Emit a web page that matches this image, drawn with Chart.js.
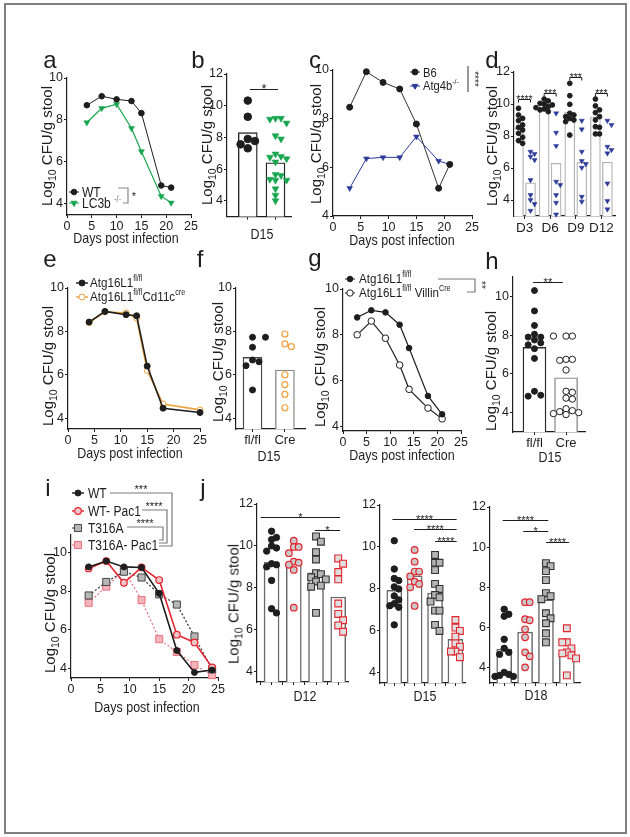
<!DOCTYPE html>
<html>
<head>
<meta charset="utf-8">
<title>Log10 CFU/g stool</title>
<script src="https://cdn.jsdelivr.net/npm/chart.js@4.4.1/dist/chart.umd.min.js"></script>
<style>
  html, body { margin: 0; padding: 0; background: #fff; }
  #page { position: relative; width: 630px; height: 837px; overflow: hidden; color: #1e1e1e; }
  #frame { position: absolute; left: 4px; top: 3px; width: 619px; height: 827px; border: 2px solid #808080; }
  canvas { position: absolute; left: 0; top: 0; }
  .lab { position: absolute; white-space: nowrap; line-height: 1; font-family: 'Liberation Sans', Arial, sans-serif; }
  .sp { font-size: 62%; position: relative; top: -0.7em; }
  .sb { font-size: 70%; position: relative; top: 0.35em; }
</style>
</head>
<body>
<div id="page"><div id="frame"></div></div>
<script>
// ---------- a: WT vs LC3b-/- time course ----------
const daysA = [4, 7, 10, 13, 15, 19, 21];
const wtA = [8.7, 9.13, 8.98, 8.9, 8.32, 4.86, 4.76];
const lc3bA = [7.87, 8.55, 8.75, 7.6, 6.49, 4.35, 4.03];

// ---------- b: D15 ----------
const barsB = [8.3, 6.4];
const wtB = [10.32, 9.3, 7.9, 7.77, 7.56, 7.31];
const lc3bB = [9.2, 9.2, 9.15, 8.9, 8.1, 7.9, 6.95, 6.8, 6.75, 6.65, 6.45, 5.65, 5.6, 5.35, 5.3, 5.3, 4.75, 4.35, 4.0];

// ---------- c: B6 vs Atg4b-/- ----------
const daysC = [3, 6, 9, 12, 15, 19, 21];
const b6C = [8.47, 9.93, 9.49, 9.22, 7.78, 5.14, 6.12];
const atg4bC = [5.14, 6.36, 6.41, 6.41, 7.26, 6.26, 6.12];

// ---------- d: per day ----------
const daysD = ['D3', 'D6', 'D9', 'D12'];
const b6BarsD = [8.48, 9.98, 9.48, 9.2];
const atg4bBarsD = [5.08, 6.29, 6.36, 6.36];
const b6D = [
  [9.73, 9.31, 9.1, 8.96, 8.69, 8.54, 8.38, 8.17, 7.92, 7.71, 7.54],
  [10.31, 10.19, 10.04, 10.0, 9.94, 9.83, 9.77, 9.69, 9.63, 9.52],
  [11.29, 10.52, 9.98, 9.42, 9.31, 9.21, 9.1, 9.0, 8.9, 8.06],
  [10.31, 9.88, 9.63, 9.46, 9.21, 9.0, 8.58, 8.54, 8.13, 8.13]
];
const atg4bD = [
  [7.02, 6.88, 6.71, 6.5, 5.25, 4.31, 4.0, 3.75, 3.33],
  [9.42, 8.21, 7.38, 5.15, 4.94, 4.31, 3.83, 3.1],
  [8.96, 8.42, 7.02, 6.44, 6.25, 6.02, 4.21, 3.9],
  [8.96, 8.69, 7.33, 7.13, 6.92, 5.04, 3.94, 3.42]
];
const sigD = ['****', '***', '***', '***'];
const sigLevelD = [10.3, 10.7, 11.67, 10.7];

// ---------- e: Atg16L1 fl/fl vs Cd11c-cre ----------
const daysE = [4, 7, 11, 13, 15, 18, 25];
const flE = [8.43, 8.92, 8.77, 8.72, 6.4, 4.46, 4.26];
const cd11cE = [8.4, 8.9, 8.85, 8.6, 6.2, 4.65, 4.38];

// ---------- f: D15 ----------
const groupsF = ['fl/fl', 'Cre'];
const barsF = [6.8, 6.22];
const flF = [7.73, 7.73, 7.27, 6.68, 6.6, 6.42, 5.3];
const creF = [7.88, 7.42, 7.3, 6.0, 5.55, 5.1, 4.48];

// ---------- g: Atg16L1 fl/fl vs Villin-cre ----------
const daysG = [3, 6, 9, 12, 14, 18, 21];
const flG = [8.76, 9.07, 8.98, 8.44, 7.42, 5.33, 4.53];
const villinG = [8.0, 8.6, 7.85, 6.68, 5.62, 4.8, 4.33];

// ---------- h: D15 ----------
const groupsH = ['fl/fl', 'Cre'];
const barsH = [7.37, 5.8];
const flH = [10.3, 9.25, 8.5, 8.05, 7.9, 7.9, 7.75, 7.6, 7.5, 7.3, 6.8, 5.1, 4.9, 4.85];
const creH = [7.95, 7.95, 7.95, 6.75, 6.75, 6.7, 6.2, 5.1, 5.05, 4.75, 4.7, 4.2, 4.1, 4.05, 4.0, 3.95, 3.9];

// ---------- i: WT / WT-Pac1 / T316A / T316A-Pac1 ----------
const daysI = [3, 6, 9, 12, 15, 18, 21, 24];
const wtI = [9.25, 9.55, 9.25, 9.22, 7.88, 4.92, 3.79, 3.91];
const wtPacI = [9.17, 9.55, 8.43, 9.22, 8.57, 5.74, 5.34, 4.05];
const t316I = [7.77, 8.47, 9.0, 8.7, 7.83, 7.3, 5.65, 3.95];
const t316PacI = [7.39, 8.23, 9.08, 7.53, 5.51, 4.85, 4.17, 3.65];

// ---------- j: D12 / D15 / D18 ----------
const barsJ12 = [9.22, 9.22, 8.71, 7.56];
const wtJ12 = [10.7, 10.4, 10.3, 10.0, 9.9, 9.75, 9.15, 9.1, 9.0, 8.35, 7.0, 6.8];
const wtPacJ12 = [10.25, 9.95, 9.95, 9.65, 9.25, 9.2, 9.1, 8.85, 7.05];
const t316J12 = [10.45, 10.2, 9.7, 9.35, 8.7, 8.65, 8.5, 8.4, 8.3, 8.1, 8.05, 6.8];
const t316PacJ12 = [9.4, 9.15, 8.75, 8.4, 7.25, 6.75, 6.45, 6.2, 5.9];
const sigJ12 = [{x1: 0.51, x2: 4.08, y: 11.39, label: '*'}, {x1: 2.95, x2: 4.08, y: 10.76, label: '*'}];

const barsJ15 = [7.93, 8.62, 7.8, 5.6];
const wtJ15 = [10.3, 8.95, 8.5, 8.4, 8.1, 8.0, 7.67, 7.48, 7.3, 7.2, 7.13, 6.29];
const wtPacJ15 = [9.86, 9.3, 8.83, 8.83, 8.6, 8.35, 8.24, 8.08, 7.19];
const t316J15 = [9.62, 9.25, 9.25, 8.9, 8.24, 8.0, 7.71, 7.6, 7.4, 6.97, 6.97, 6.29, 6.0];
const t316PacJ15 = [6.52, 6.16, 6.0, 5.73, 5.41, 5.25, 5.02, 5.02, 4.75];
const sigJ15 = [{x1: 0.91, x2: 4.06, y: 11.32, label: '****'}, {x1: 1.97, x2: 4.06, y: 10.86, label: '****'},
  {x1: 3.0, x2: 4.06, y: 10.29, label: '****'}];

const barsJ18 = [4.91, 5.76, 7.37, 4.83];
const wtJ18 = [6.9, 6.65, 6.55, 5.4, 4.95, 4.75, 4.65, 3.75, 3.65, 3.6, 3.55, 3.55];
const wtPacJ18 = [7.25, 7.25, 6.4, 6.35, 5.9, 5.5, 4.75, 4.55, 4.0];
const t316J18 = [9.2, 9.05, 8.8, 8.35, 7.7, 7.55, 7.4, 6.7, 6.45, 6.2, 5.7, 5.25];
const t316PacJ18 = [5.95, 5.25, 5.25, 4.95, 4.75, 4.7, 4.6, 4.45, 3.6];
const sigJ18 = [{x1: 0.93, x2: 3.11, y: 11.35, label: '****'}, {x1: 1.91, x2: 3.11, y: 10.8, label: '*'},
  {x1: 3.0, x2: 4.11, y: 10.27, label: '****'}];

const dayTicks = [0, 5, 10, 15, 20, 25];

// ---------------------------------------------------------------
const W = 630, H = 837;
const INK = '#1e1e1e', GREEN = '#17a54f', NAVY = '#2c3a98', ORANGE = '#f0a13c';
const RED = '#e3252f', PINK = '#e8717d', PINKFILL = '#f3b4bb', GREYFILL = '#b7b7b7';
const TF = "'Liberation Sans', Arial, sans-serif";
Chart.defaults.font.family = TF;
Chart.defaults.color = INK;
const page = document.getElementById('page');

function xy(xs, ys) { return xs.map((x, i) => ({x, y: ys[i]})); }

// deterministic beeswarm: highest value first, try centre then alternate sides,
// fall back to the least crowded column
function swarm(vals, center, dy, dx) {
  const placed = [];
  return vals.slice().sort((p, q) => q - p).map(v => {
    let best = null, bestD = -1;
    for (const k of [0, 1, -1, 2, -2]) {
      const x = center + k * dx;
      const d = placed.reduce((m, p) => Math.min(m, Math.hypot((p.x - x) / dx, (p.y - v) / dy)), Infinity);
      if (d >= 1) { best = x; break; }
      if (d > bestD) { bestD = d; best = x; }
    }
    const pt = {x: best, y: v};
    placed.push(pt);
    return pt;
  });
}

function axis(kind, min, max, vals, labels, fontSize) {
  return {
    type: 'linear', min, max, offset: false,
    grid: {offset: false, drawOnChartArea: false, drawTicks: true, tickLength: 3, color: INK, lineWidth: 1},
    border: {display: true, color: INK, width: 1.2},
    ticks: {padding: 1, font: {size: fontSize || 12.5}, color: INK, autoSkip: false, maxRotation: 0, minRotation: 0,
      callback: v => labels ? (labels[vals.indexOf(v)] ?? '') : String(v)},
    afterBuildTicks: s => { s.ticks = vals.map(v => ({value: v})); },
    afterFit: s => {
      if (kind === 'x') s.height = 24; else s.width = 34;
      s.paddingLeft = s.paddingRight = s.paddingTop = s.paddingBottom = 0;
    }
  };
}

function drawSym(ctx, s) {
  ctx.save();
  if (s.line) {
    ctx.strokeStyle = s.line.color; ctx.lineWidth = s.line.width || 1.2;
    ctx.setLineDash(s.line.dash || []);
    ctx.beginPath(); ctx.moveTo(s.x - s.line.len, s.y); ctx.lineTo(s.x + s.line.len, s.y); ctx.stroke();
    ctx.setLineDash([]);
  }
  ctx.fillStyle = s.fill; ctx.strokeStyle = s.stroke || s.fill; ctx.lineWidth = s.lw || 1;
  ctx.beginPath();
  if (s.shape === 'circle') ctx.arc(s.x, s.y, s.r, 0, Math.PI * 2);
  else if (s.shape === 'tri') {
    ctx.moveTo(s.x - s.r * 0.866, s.y - s.r * 0.5); ctx.lineTo(s.x + s.r * 0.866, s.y - s.r * 0.5);
    ctx.lineTo(s.x, s.y + s.r); ctx.closePath();
  } else { const h = s.r * Math.SQRT1_2; ctx.rect(s.x - h, s.y - h, 2 * h, 2 * h); }
  ctx.fill(); ctx.stroke();
  ctx.restore();
}

// brackets (in data units), legend symbols and connector lines (page px)
function marksPlugin(m) {
  return {
    id: 'marks',
    afterDatasetsDraw(chart) {
      const ctx = chart.ctx, xs = chart.scales.x, ys = chart.scales.y;
      ctx.save();
      (m.brackets || []).forEach(b => {
        const x1 = xs.getPixelForValue(b.x1), x2 = xs.getPixelForValue(b.x2), y = Math.round(ys.getPixelForValue(b.y)) + 0.5;
        ctx.strokeStyle = INK; ctx.lineWidth = 1;
        ctx.beginPath();
        if (b.drop) { ctx.moveTo(x1, y + b.drop); ctx.lineTo(x1, y); ctx.lineTo(x2, y); ctx.lineTo(x2, y + b.drop); }
        else { ctx.moveTo(x1, y); ctx.lineTo(x2, y); }
        ctx.stroke();
        ctx.fillStyle = INK; ctx.font = (b.size || 11) + 'px ' + TF;
        ctx.textAlign = 'center'; ctx.textBaseline = 'alphabetic';
        ctx.fillText(b.label, (x1 + x2) / 2, y + 3);
      });
      (m.paths || []).forEach(p => {
        ctx.strokeStyle = p.color || '#808080'; ctx.lineWidth = p.width || 1.2;
        ctx.beginPath();
        p.pts.forEach((q, i) => i ? ctx.lineTo(q[0], q[1]) : ctx.moveTo(q[0], q[1]));
        ctx.stroke();
      });
      (m.symbols || []).forEach(s => drawSym(ctx, s));
      ctx.restore();
    }
  };
}

function makeChart(box, xAx, yAx, datasets, marks) {
  const cv = document.createElement('canvas');
  cv.width = W; cv.height = H;
  page.appendChild(cv);
  return new Chart(cv, {
    type: 'scatter',
    data: {datasets},
    options: {
      responsive: false, animation: false, events: [],
      layout: {padding: {left: box[0] - 34, top: box[1], right: W - box[2], bottom: H - box[3] - 24}},
      plugins: {legend: {display: false}, tooltip: {enabled: false}},
      scales: {x: xAx, y: yAx}
    },
    plugins: [marksPlugin(marks || {})]
  });
}

function lineDs(xs, ys, st) {
  return Object.assign({type: 'line', data: xy(xs, ys), tension: 0, fill: false, clip: false,
    borderWidth: 1.2, pointBorderWidth: 1, order: 1}, st);
}
function dotDs(points, st) {
  return Object.assign({type: 'scatter', data: points, clip: false, order: 1, pointBorderWidth: 1}, st);
}
function barDs(xs, ys, st) {
  return Object.assign({type: 'bar', data: xy(xs, ys), backgroundColor: '#fff', borderSkipped: 'start',
    grouped: false, clip: 0, order: 5}, st);
}
const dot = (style, r, fill, stroke, lw, rot) => ({pointStyle: style, pointRadius: r, pointBackgroundColor: fill,
  pointBorderColor: stroke || fill, pointBorderWidth: lw == null ? 1 : lw, pointRotation: rot || 0});

// ---------- a ----------
makeChart([67, 78, 191, 215], axis('x', 0, 25, dayTicks), axis('y', 3.45, 10, [4, 6, 8, 10]), [
  lineDs(daysA, wtA, Object.assign({borderColor: INK, borderWidth: 1, order: 0}, dot('circle', 2.8, INK))),
  lineDs(daysA, lc3bA, Object.assign({borderColor: GREEN, borderWidth: 1.2}, dot('triangle', 3.5, GREEN, GREEN, 0.5, 180)))
], {
  symbols: [
    {x: 74, y: 192, shape: 'circle', r: 2.8, fill: INK, line: {len: 5, color: INK, width: 1}},
    {x: 74, y: 203, shape: 'tri', r: 3.4, fill: GREEN, line: {len: 5, color: GREEN, width: 1}}
  ],
  paths: [{pts: [[118, 188], [128, 188], [128, 203], [123, 203]], color: '#8a8a8a'}]
});

// ---------- b ----------
makeChart([227, 74, 291, 216.6], axis('x', 0.25, 2.56, [1, 2], []), axis('y', 3.0, 12, [4, 6, 8, 10, 12]), [
  barDs([1, 2], barsB, {borderColor: '#262626', borderWidth: 1.4, barThickness: 19}),
  dotDs(swarm(wtB, 1, 0.42, 0.26), dot('circle', 3.8, INK)),
  dotDs(swarm(lc3bB, 2, 0.33, 0.2), dot('triangle', 4, GREEN, GREEN, 0.5, 180))
], {brackets: [{x1: 1.08, x2: 2.09, y: 11.07, label: '*', size: 13}]});

// ---------- c ----------
makeChart([333, 70, 472, 216], axis('x', 0, 25, dayTicks), axis('y', 4, 10, [4, 6, 8, 10]), [
  lineDs(daysC, b6C, Object.assign({borderColor: '#333', borderWidth: 1, order: 0}, dot('circle', 3, INK))),
  lineDs(daysC, atg4bC, Object.assign({borderColor: NAVY, borderWidth: 1}, dot('triangle', 3.3, NAVY, NAVY, 0.5, 180)))
], {
  symbols: [
    {x: 415, y: 72, shape: 'circle', r: 3, fill: INK, line: {len: 5, color: '#333', width: 1}},
    {x: 415, y: 86, shape: 'tri', r: 3.2, fill: NAVY, line: {len: 5, color: NAVY, width: 1}}
  ],
  paths: [{pts: [[468, 66], [468, 92]], color: '#333', width: 1}]
});

// ---------- d ----------
const gx = [1, 2, 3, 4];
makeChart([514, 72, 615, 216], axis('x', 0.59, 4.53, gx, daysD, 13.5), axis('y', 3.0, 12, [4, 6, 8, 10, 12]), [
  barDs(gx.map(g => g - 0.234), b6BarsD, {borderColor: '#b4b4b4', borderWidth: 1.3, barThickness: 10}),
  barDs(gx.map(g => g + 0.234), atg4bBarsD, {borderColor: '#b4b4b4', borderWidth: 1.3, barThickness: 10}),
  dotDs(b6D.flatMap((v, k) => swarm(v, gx[k] - 0.234, 0.28, 0.16)), dot('circle', 2.4, INK)),
  dotDs(atg4bD.flatMap((v, k) => swarm(v, gx[k] + 0.234, 0.28, 0.16)), dot('triangle', 2.9, NAVY, NAVY, 0.5, 180))
], {brackets: gx.map((g, k) => ({x1: g - 0.234, x2: g + 0.234, y: sigLevelD[k], label: sigD[k], size: 10.5, drop: 3}))});

// ---------- e ----------
makeChart([68, 288, 200, 429], axis('x', 0, 25, dayTicks), axis('y', 3.5, 10, [4, 6, 8, 10]), [
  lineDs(daysE, flE, Object.assign({borderColor: INK, borderWidth: 1.6, order: 0}, dot('circle', 3, INK))),
  lineDs(daysE, cd11cE, Object.assign({borderColor: ORANGE, borderWidth: 1.6}, dot('circle', 3, '#fff', ORANGE, 1)))
], {
  symbols: [
    {x: 82, y: 283, shape: 'circle', r: 3, fill: INK, line: {len: 6, color: INK, width: 1.4}},
    {x: 82, y: 297, shape: 'circle', r: 3, fill: '#fff', stroke: ORANGE, line: {len: 6, color: ORANGE, width: 1.4}}
  ]
});

// ---------- f ----------
makeChart([236, 288, 305, 429], axis('x', 0.49, 2.62, [1, 2], groupsF, 13), axis('y', 3.5, 10, [4, 6, 8, 10]), [
  barDs([1, 2], barsF, {borderColor: ['#4a4a4a', '#8a8a8a'], borderWidth: 1.4, barThickness: 19}),
  dotDs(swarm(flF, 1, 0.3, 0.2), dot('circle', 3, INK)),
  dotDs(swarm(creF, 2, 0.3, 0.2), dot('circle', 3, '#fff', ORANGE, 1.2))
]);

// ---------- g ----------
makeChart([343, 289, 461, 431], axis('x', 0, 25, dayTicks), axis('y', 3.8, 10, [4, 6, 8, 10]), [
  lineDs(daysG, flG, Object.assign({borderColor: INK, borderWidth: 1.2, order: 0}, dot('circle', 2.8, INK))),
  lineDs(daysG, villinG, Object.assign({borderColor: INK, borderWidth: 1.2}, dot('circle', 3.3, '#fff', INK, 1)))
], {
  symbols: [
    {x: 350, y: 279, shape: 'circle', r: 2.8, fill: INK, line: {len: 5, color: INK, width: 1}},
    {x: 350, y: 293, shape: 'circle', r: 3.2, fill: '#fff', stroke: INK, line: {len: 5, color: INK, width: 1}}
  ],
  paths: [{pts: [[438, 279], [475, 279], [475, 292], [467, 292]], color: '#7a7a7a'}]
});

// ---------- h ----------
makeChart([513, 277, 585, 432], axis('x', 0.32, 2.6, [1, 2], groupsH, 13), axis('y', 3, 11, [4, 6, 8, 10]), [
  barDs([1, 2], barsH, {borderColor: ['#2a2a2a', '#8a8a8a'], borderWidth: 1.4, barThickness: 23}),
  dotDs(swarm(flH, 1, 0.3, 0.2), dot('circle', 3, INK)),
  dotDs(swarm(creH, 2, 0.3, 0.2), dot('circle', 3.2, '#fff', INK, 1))
], {brackets: [{x1: 0.95, x2: 1.9, y: 10.74, label: '**', size: 11}]});

// ---------- i ----------
makeChart([71, 535, 218, 678], axis('x', 0, 25, dayTicks), axis('y', 3.5, 10.9, [4, 6, 8, 10]), [
  lineDs(daysI, wtI, Object.assign({borderColor: INK, borderWidth: 1.6, order: 0}, dot('circle', 3, INK))),
  lineDs(daysI, wtPacI, Object.assign({borderColor: RED, borderWidth: 1.6, order: 1}, dot('circle', 3.3, '#efc5c9', RED, 1.2))),
  lineDs(daysI, t316I, Object.assign({borderColor: '#333', borderWidth: 1.2, borderDash: [2, 2], order: 2}, dot('rect', 5, GREYFILL, '#444', 1))),
  lineDs(daysI, t316PacI, Object.assign({borderColor: PINK, borderWidth: 1.2, borderDash: [2, 2], order: 3}, dot('rect', 5, PINKFILL, PINK, 1)))
], {
  symbols: [
    {x: 78, y: 493, shape: 'circle', r: 3, fill: INK, line: {len: 6, color: INK, width: 1.4}},
    {x: 78, y: 511, shape: 'circle', r: 3.3, fill: '#efc5c9', stroke: RED, lw: 1.2, line: {len: 6, color: RED, width: 1.4}},
    {x: 78, y: 528, shape: 'rect', r: 5, fill: GREYFILL, stroke: '#444', line: {len: 6, color: '#333', width: 1.2, dash: [2, 2]}},
    {x: 78, y: 545, shape: 'rect', r: 5, fill: PINKFILL, stroke: PINK, line: {len: 6, color: PINK, width: 1.2, dash: [2, 2]}}
  ],
  paths: [
    {pts: [[110, 493], [172, 493], [172, 546], [159, 546]], color: '#7a7a7a'},
    {pts: [[142, 510], [167, 510], [167, 543], [159, 543]], color: '#7a7a7a'},
    {pts: [[127, 527], [163, 527], [163, 540], [159, 540]], color: '#7a7a7a'}
  ]
});

// ---------- j ----------
function panelJ(box, xr, yr, bars, wt, wtPac, t316, t316Pac, sig) {
  const cx = [1, 2, 3, 4];
  const jt = [0.5, 1, 1.5, 2, 2.5, 3, 3.5, 4];
  makeChart(box, axis('x', xr[0], xr[1], jt, []), axis('y', yr[0], yr[1], [4, 6, 8, 10, 12]), [
    barDs(cx, bars, {borderColor: '#6a6a6a', borderWidth: 1.5, barThickness: 15}),
    dotDs(swarm(wt, 1, 0.3, 0.22), dot('circle', 3.2, INK)),
    dotDs(swarm(wtPac, 2, 0.3, 0.22), dot('circle', 3.3, '#c9c9c9', RED, 1.2)),
    dotDs(swarm(t316, 3, 0.32, 0.22), dot('rect', 4.8, '#b5b5b5', '#333', 1.1)),
    dotDs(swarm(t316Pac, 4, 0.32, 0.22), dot('rect', 4.8, '#dedede', RED, 1.1))
  ], {brackets: sig.map(s => Object.assign({size: 11}, s))});
}
panelJ([257, 504, 348, 682], [0.344, 4.44], [3.5, 12], barsJ12, wtJ12, wtPacJ12, t316J12, t316PacJ12, sigJ12);
panelJ([380, 505, 465, 683], [0.30, 4.47], [3.52, 12], barsJ15, wtJ15, wtPacJ15, t316J15, t316PacJ15, sigJ15);
panelJ([490, 507, 580, 683], [0.32, 4.63], [3.22, 12], barsJ18, wtJ18, wtPacJ18, t316J18, t316PacJ18, sigJ18);

// ---------- text (narrow = horizontally condensed like the figure's font) ----------
function txt(html, x, y, size, opt) {
  opt = opt || {};
  const d = document.createElement('div');
  d.className = 'lab';
  d.innerHTML = html;
  d.style.left = x + 'px'; d.style.top = y + 'px'; d.style.fontSize = size + 'px';
  let tf = opt.left ? 'translate(0,-50%)' : 'translate(-50%,-50%)';
  if (opt.rot) tf += ' rotate(' + opt.rot + 'deg)';
  if (opt.narrow) tf += ' scaleX(0.86)';
  d.style.transformOrigin = opt.left ? '0 50%' : '50% 50%';
  d.style.transform = tf;
  page.appendChild(d);
}
const N = {narrow: true}, NL = {narrow: true, left: true};
const YT = 'Log<span class="sb">10</span> CFU/g stool';
const DPI = 'Days post infection';
const FLFL = 'Atg16L1<span class="sp">fl/fl</span>';

[['a', 50, 59.6], ['b', 198, 59.6], ['c', 315, 59.6], ['d', 492, 59.6], ['e', 50, 258.6], ['f', 200, 258.6],
 ['g', 315, 258.3], ['h', 492, 260.6], ['i', 48, 488.3], ['j', 203, 488.3]]
  .forEach(l => txt(l[0], l[1], l[2], 24));

[[46, 146], [206, 145], [315, 144], [491, 146], [47, 366], [217, 362], [319, 367], [490, 371], [49, 613], [233, 604]]
  .forEach(p => txt(YT, p[0], p[1], 15, {rot: -90}));

txt(DPI, 126, 238, 14.5, N); txt(DPI, 402, 240, 14.5, N); txt(DPI, 130, 453, 14.5, N); txt(DPI, 402, 455, 14.5, N); txt(DPI, 147, 707, 14.5, N);
txt('D15', 262, 234, 14.5, N); txt('D15', 269, 456, 14.5, N); txt('D15', 550, 457, 14.5, N);
txt('D12', 305, 696, 14.5, N); txt('D15', 425, 696, 14.5, N); txt('D18', 536, 695, 14.5, N);

// legends
txt('WT', 82, 192, 14, NL);
txt('LC3b <span class="sp" style="color:#777">-/-</span>', 82, 203, 14, NL);
txt('*', 134, 196, 11);
txt('B6', 423, 72, 13, NL);
txt('Atg4b<span class="sp">-/-</span>', 423, 86, 13, NL);
txt('****', 474, 79, 10, {rot: 90});
txt(FLFL, 90, 283, 13.5, NL);
txt(FLFL + 'Cd11c<span class="sp">cre</span>', 90, 297, 13.5, NL);
txt(FLFL, 359, 279, 13.5, NL);
txt(FLFL + ' Villin<span class="sp">Cre</span>', 359, 293, 13.5, NL);
txt('**', 481, 285, 10, {rot: 90});
txt('WT', 88, 493, 14, NL);
txt('WT- Pac1', 88, 511, 14, NL);
txt('T316A', 88, 528, 14, NL);
txt('T316A- Pac1', 88, 545, 14, NL);
txt('***', 141, 489, 11);
txt('****', 154, 506, 11);
txt('****', 145, 523, 11);
</script>
</body>
</html>
